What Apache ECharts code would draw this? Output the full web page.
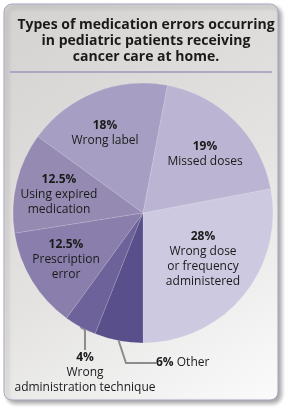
<!DOCTYPE html>
<html>
<head>
<meta charset="utf-8">
<title>Medication errors</title>
<style>
  html, body { margin: 0; padding: 0; background: #fff; }
  #main { width: 290px; height: 410px; }
</style>
</head>
<body>
<div id="main"></div>
<script src="https://cdn.jsdelivr.net/npm/echarts@6/dist/echarts.min.js"></script>
<script>
var errorTypes = ['Wrong dose\nor frequency\nadministered', 'Missed doses', 'Wrong label',
    'Using expired\nmedication', 'Prescription\nerror', 'Wrong\nadministration technique', 'Other'];
var errorShares = [28, 19, 18, 12.5, 12.5, 4, 6];
var sliceColors = ['#cdc9e0', '#bbb5d3', '#a69fc3', '#958bb2', '#8a7fac', '#6d6299', '#584f8b'];

// where each label block sits (x, y, align, verticalAlign)
var labelSpots = [
    [203, 259, 'center', 'middle'],
    [205, 154, 'center', 'middle'],
    [105, 133, 'center', 'middle'],
    [59, 195, 'center', 'middle'],
    [66, 260, 'center', 'middle'],
    [85, 350, 'center', 'top'],
    [156, 363, 'left', 'middle']
];

var font = 'Open Sans';
var myChart = echarts.init(document.getElementById('main'), null, { renderer: 'canvas' });

var pieData = errorTypes.map(function (name, i) {
    var item = {
        name: name,
        value: errorShares[i],
        itemStyle: { color: sliceColors[i] }
    };
    if (i < 5) {
        item.label = { position: 'inside' };
        item.labelLine = { show: false };
    } else if (i == 5) {
        item.labelLine = { length: 10, length2: 20 };
    } else {
        item.labelLine = { length: 10, length2: 30 };
    }
    return item;
});

var option = {
    animation: false,
    graphic: [
        {
            type: 'rect',
            z: -10,
            shape: { x: 4, y: 4, width: 274, height: 396, r: 8 },
            style: {
                fill: new echarts.graphic.LinearGradient(0, 0, 1, 1, [
                    { offset: 0, color: '#d4d2d0' },
                    { offset: 0.55, color: '#e4e3e2' },
                    { offset: 1, color: '#fbfbfb' }
                ]),
                stroke: '#aaa6c2',
                lineWidth: 1,
                shadowBlur: 4,
                shadowOffsetX: 3,
                shadowOffsetY: 3,
                shadowColor: 'rgba(0,0,0,0.35)'
            }
        },
        {
            type: 'line',
            z: -5,
            shape: { x1: 10, y1: 72, x2: 272, y2: 72 },
            style: { stroke: '#9e99bb', lineWidth: 1.5 }
        }
    ],
    title: {
        text: 'Types of medication errors occurring\nin pediatric patients receiving\ncancer care at home.',
        left: 141,
        top: 12,
        textAlign: 'center',
        textStyle: {
            fontFamily: font,
            fontWeight: 'bold',
            fontSize: 14,
            lineHeight: 16,
            color: '#1a1a1a'
        }
    },
    series: [{
        type: 'pie',
        center: [143, 213],
        radius: 130,
        startAngle: 270,
        clockwise: false,
        avoidLabelOverlap: false,
        itemStyle: { borderColor: 'rgba(255,255,255,0.22)', borderWidth: 0.6 },
        emphasis: { disabled: true },
        label: {
            position: 'outside',
            formatter: function (p) {
                var pct = '{b|' + p.value + '%}';
                if (p.dataIndex == 6) return pct + ' ' + p.name;
                return pct + '\n' + p.name;
            },
            fontFamily: font,
            fontSize: 12,
            lineHeight: 15,
            color: '#1a1a1a',
            rich: {
                b: { fontFamily: font, fontSize: 12, fontWeight: 'bold', lineHeight: 15, color: '#1a1a1a' }
            }
        },
        labelLine: {
            show: true,
            lineStyle: { color: '#8c8c8c', width: 2 }
        },
        labelLayout: function (p) {
            var s = labelSpots[p.dataIndex];
            return { x: s[0], y: s[1], align: s[2], verticalAlign: s[3] };
        },
        data: pieData
    }]
};

myChart.setOption(option);
</script>
</body>
</html>
